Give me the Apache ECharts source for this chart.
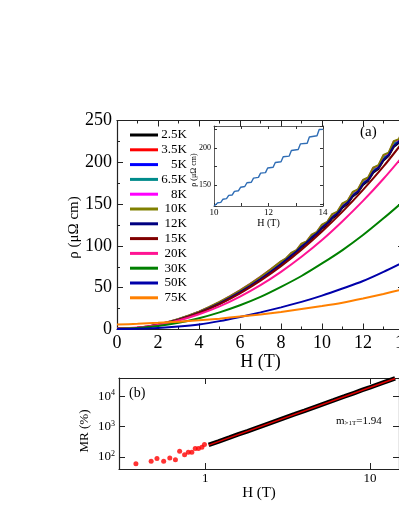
<!DOCTYPE html>
<html><head><meta charset="utf-8">
<script src="https://cdn.jsdelivr.net/npm/echarts@6/dist/echarts.min.js"></script>
<style>html,body{margin:0;padding:0;background:#fff;overflow:hidden}#c{width:399px;height:516px}</style>
</head><body><div id="c"></div>
<script>
// ---------- Panel (a) data ----------
const seriesNames = ['2.5K','3.5K','5K','6.5K','8K','10K','12K','15K','20K','30K','50K','75K'];
const seriesColors = ['#000000','#ff0000','#0000ff','#008b8b','#ff00ff','#808000','#000080','#800000','#ff1493','#008000','#0000aa','#ff8000'];
// field grids (T)
const hFine = [0,0.5,1,1.5,2,2.5,3,3.5,4,4.5,5,5.5,6,6.5,7,7.5,
  8,8.25,8.5,8.75,9,9.25,9.5,9.75,10,10.25,10.5,10.75,11,11.25,11.5,11.75,12,12.25,12.5,12.75,13,13.25,13.5,13.75,14];
const hCoarse = [0,1,2,3,4,5,6,7,8,9,10,11,12,13,14];
// resistivity (µΩ cm), low-T curves with SdH oscillations
const rho2p5K = [1.0,1.2,1.7,3.2,5.4,8.2,11.6,15.5,20.0,25.2,30.8,37.2,44.0,51.5,59.5,68.1,
  77.4,82.3,87.3,91.9,98.1,102.5,109.0,113.6,120.7,125.2,132.9,137.3,145.7,150.2,159.2,163.6,173.0,177.7,187.6,192.1,202.1,207.4,218.2,223.2,234.8];
const rho3p5K = [1.1,1.3,1.9,3.4,5.6,8.5,11.9,15.9,20.5,25.8,31.5,38.0,44.9,52.5,60.6,69.3,
  78.9,83.6,88.9,93.1,99.6,103.8,110.4,115.0,122.3,126.6,134.4,139.0,147.2,151.7,160.6,165.1,174.4,179.1,189.2,193.6,203.6,208.6,219.9,224.7,236.6];
const rho5K = [0.9,1.2,1.9,3.5,5.8,8.8,12.3,16.4,21.1,26.5,32.4,39.1,46.2,54.0,62.3,71.3,
  80.6,84.3,90.6,93.7,101.4,104.3,112.3,115.4,124.1,127.2,136.5,139.4,149.4,152.3,163.0,165.6,177.1,179.6,192.0,194.0,206.7,209.0,223.2,224.9,239.9];
const rho6p5K = [1.0,1.2,1.8,3.4,5.7,8.7,12.1,16.2,20.9,26.2,32.1,38.7,45.7,53.4,61.7,70.6,
  80.2,84.6,90.2,94.0,100.9,104.6,111.8,115.8,123.5,127.6,135.8,139.9,148.6,152.9,162.2,166.2,176.2,180.2,191.0,194.7,205.7,210.0,222.0,225.8,238.9];
const rho8K = [1.2,1.4,2.0,3.6,5.9,8.9,12.4,16.6,21.3,26.8,32.8,39.5,46.7,54.6,63.0,72.0,
  81.2,84.8,91.4,94.3,102.3,105.0,113.2,116.2,125.2,128.0,137.7,140.3,150.6,153.3,164.3,166.8,178.5,180.9,193.5,195.5,208.4,210.5,225.0,226.6,241.8];
const rho10K = [1.3,1.5,2.1,3.7,6.0,9.0,12.5,16.7,21.4,26.9,32.9,39.6,46.8,54.7,63.1,72.1,
  81.5,85.2,91.6,94.8,102.6,105.5,113.5,116.8,125.5,128.6,138.0,141.0,150.9,154.0,164.5,167.6,178.8,181.8,193.7,196.5,208.7,211.6,225.2,227.8,242.0];
const rho12K = [0.7,0.9,1.6,3.1,5.3,8.2,11.6,15.6,20.2,25.5,31.2,37.7,44.6,52.2,60.3,69.0,
  78.4,83.4,88.5,93.3,99.2,104.0,110.2,115.0,122.0,127.0,134.0,139.0,146.8,151.8,160.0,165.0,174.0,179.0,188.6,193.5,203.0,208.6,219.5,224.6,236.0];
// smooth higher-T curves
const rho15K = [1.2,1.9,5.5,11.5,19.8,30.4,43.3,58.5,75.8,95.5,117.3,141.0,167.0,195.0,226.0];
const rho20K = [1.2,2.3,5.4,10.7,18.2,27.7,39.4,53.1,69.0,87.0,107.0,129.5,153.8,180.3,209.0];
const rho30K = [1.0,1.8,4.1,8.0,13.5,20.5,29.0,39.0,51.0,64.0,79.0,95.0,113.0,133.0,154.0];
const rho50K = [0.5,0.8,1.8,3.5,6.0,10.0,15.0,20.5,26.5,33.0,40.5,49.0,58.0,69.0,81.0];
const rho75K = [6.0,6.8,8.0,9.4,11.0,13.0,15.5,18.0,21.0,24.5,28.0,32.0,37.0,42.5,48.5];

// ---------- Inset data (H, rho) ----------
const insetH = [10.00,10.06,10.14,10.25,10.33,10.46,10.54,10.67,10.75,10.90,10.98,11.13,11.21,11.37,11.45,11.63,11.71,11.89,11.97,12.17,12.25,12.46,12.54,12.76,12.84,13.09,13.17,13.42,13.50,13.78,13.86,13.93,14.00];
const insetRho = [122.0,122.5,126.3,126.9,131.2,132.0,136.3,136.9,141.7,142.6,147.4,148.3,153.4,154.0,159.6,160.7,166.4,167.1,173.3,174.3,180.8,181.7,188.5,189.4,196.9,198.2,205.8,206.8,215.2,216.8,225.3,227.5,225.5];

// ---------- Panel (b) data ----------
const mrH = [1.05,1.2,1.4,1.6,1.8,2,2.5,3,3.5,4,5,6,7,8,9,10,11,12,13,14.2];
const mrVal = [250,320,430,560,700,860,1330,1900,2560,3320,5130,7300,9850,12800,16100,19700,23800,28200,32900,39000];
const fitH = [1.05,14.2];
const fitVal = [245,38500];
const lowH = [0.38,0.47,0.51,0.56,0.61,0.66,0.70,0.75,0.79,0.83,0.87,0.91,0.955,0.99];
const lowVal = [60,72,88,72,93,81,153,119,142,142,188,188,207,255];

const F = "'Liberation Serif','Times New Roman',serif";
const zip = (xs, ys) => xs.map((x, i) => [x, ys[i]]);

const fineSets = [rho2p5K, rho3p5K, rho5K, rho6p5K, rho8K, rho10K, rho12K];
const coarseSets = [rho15K, rho20K, rho30K, rho50K, rho75K];

const mainSeries = seriesNames.map((n, i) => {
  const isFine = i < fineSets.length;
  return {
    name: n, type: 'line', xAxisIndex: 0, yAxisIndex: 0,
    data: isFine ? zip(hFine, fineSets[i]) : zip(hCoarse, coarseSets[i - fineSets.length]),
    symbol: 'none', smooth: isFine ? false : 0.3,
    lineStyle: { color: seriesColors[i], width: 2 },
    itemStyle: { color: seriesColors[i] },
    silent: true
  };
});

const axisCommon = (extra) => Object.assign({
  axisLine: { onZero: false, lineStyle: { color: '#222', width: 1.2 } },
  axisTick: { inside: true, length: 6, lineStyle: { color: '#222' } },
  splitLine: { show: false },
}, extra);

const logLabel = (v) => {
  const l = Math.log10(v);
  return Math.abs(l - Math.round(l)) < 1e-6 ? String(Math.round(v)) : '';
};
const logSupLabel = (v) => {
  const l = Math.log10(v);
  if (Math.abs(l - Math.round(l)) > 1e-6) return '';
  return '{b|10}{s|' + Math.round(l) + '}';
};

const option = {
  animation: false,
  backgroundColor: '#fff',
  grid: [
    { left: 117, right: -5, top: 120.5, bottom: 186.5, outerBoundsMode: 'none', containLabel: false },
    { left: 214, right: 76, top: 126, bottom: 310, outerBoundsMode: 'none', containLabel: false },
    { left: 119, right: 0, top: 378, bottom: 47, outerBoundsMode: 'none', containLabel: false }
  ],
  legend: {
    data: seriesNames, orient: 'vertical', left: 130, top: 127.6, padding: 0,
    icon: 'rect', itemGap: 0, itemWidth: 28, itemHeight: 3, selectedMode: false,
    formatter: n => '{a|' + n + '}',
    textStyle: { fontFamily: F, fontSize: 13, color: '#000', lineHeight: 14.8,
      rich: { a: { width: 24, align: 'right', fontFamily: F, fontSize: 13, color: '#000', lineHeight: 14.8 } } }
  },
  xAxis: [
    axisCommon({ gridIndex: 0, type: 'value', min: 0, max: 14, interval: 2,
      minorTick: { show: true, splitNumber: 2, length: 3, lineStyle: { color: '#222' } },
      axisLabel: { fontFamily: F, fontSize: 18, color: '#000', margin: 5 },
      name: 'H (T)', nameLocation: 'middle', nameGap: 23,
      nameTextStyle: { fontFamily: F, fontSize: 18, color: '#000' } }),
    axisCommon({ gridIndex: 0, type: 'value', position: 'top', min: 0, max: 14, interval: 2,
      minorTick: { show: true, splitNumber: 2, length: 3, lineStyle: { color: '#222' } },
      axisLabel: { show: false } }),
    axisCommon({ gridIndex: 1, type: 'value', min: 10, max: 14, interval: 1,
      axisLine: { onZero: false, lineStyle: { color: '#333', width: 0.8 } },
      axisTick: { inside: true, length: 3, lineStyle: { color: '#333' } },
      axisLabel: { fontFamily: F, fontSize: 9, color: '#000', margin: 2, formatter: v => (v % 2 === 0 ? String(v) : '') },
      name: 'H (T)', nameLocation: 'middle', nameGap: 9,
      nameTextStyle: { fontFamily: F, fontSize: 10, color: '#000' } }),
    axisCommon({ gridIndex: 1, type: 'value', position: 'top', min: 10, max: 14, interval: 1,
      axisLine: { onZero: false, lineStyle: { color: '#333', width: 0.8 } },
      axisTick: { inside: true, length: 3, lineStyle: { color: '#333' } },
      axisLabel: { show: false } }),
    axisCommon({ gridIndex: 2, type: 'log', min: 0.3, max: 15,
      axisLabel: { fontFamily: F, fontSize: 13, color: '#000', margin: 3, formatter: logLabel },
      name: 'H (T)', nameLocation: 'middle', nameGap: 14,
      nameTextStyle: { fontFamily: F, fontSize: 15, color: '#000' } }),
    axisCommon({ gridIndex: 2, type: 'log', position: 'top', min: 0.3, max: 15,
      axisLabel: { show: false } })
  ],
  yAxis: [
    axisCommon({ gridIndex: 0, type: 'value', min: 0, max: 250, interval: 50,
      minorTick: { show: true, splitNumber: 2, length: 3, lineStyle: { color: '#222' } },
      axisLabel: { fontFamily: F, fontSize: 18, color: '#000', margin: 5 } }),
    axisCommon({ gridIndex: 0, type: 'value', position: 'right', min: 0, max: 250, interval: 50,
      minorTick: { show: true, splitNumber: 2, length: 3, lineStyle: { color: '#222' } },
      axisLabel: { show: false } }),
    axisCommon({ gridIndex: 1, type: 'value', min: 122, max: 230, minInterval: 25, maxInterval: 25,
      axisLine: { onZero: false, lineStyle: { color: '#333', width: 0.8 } },
      axisTick: { inside: true, length: 3, lineStyle: { color: '#333' } },
      axisLabel: { fontFamily: F, fontSize: 8, color: '#000', margin: 3, formatter: v => (v % 50 === 0 ? String(v) : '') } }),
    axisCommon({ gridIndex: 1, type: 'value', position: 'right', min: 122, max: 230, minInterval: 25, maxInterval: 25,
      axisLine: { onZero: false, lineStyle: { color: '#333', width: 0.8 } },
      axisTick: { inside: true, length: 3, lineStyle: { color: '#333' } },
      axisLabel: { show: false } }),
    axisCommon({ gridIndex: 2, type: 'log', min: 40, max: 40000,
      axisLabel: { fontFamily: F, fontSize: 13, color: '#000', margin: 4, formatter: logSupLabel,
        rich: { b: { fontFamily: F, fontSize: 13, color: '#000' }, s: { fontFamily: F, fontSize: 8, color: '#000', verticalAlign: 'top', padding: [0, 0, 6, 0] } } } }),
    axisCommon({ gridIndex: 2, type: 'log', position: 'right', min: 40, max: 40000,
      axisLabel: { show: false } })
  ],
  series: mainSeries.concat([
    { type: 'line', xAxisIndex: 2, yAxisIndex: 2, data: zip(insetH, insetRho), symbol: 'none',
      lineStyle: { color: '#2f6db5', width: 1.4 }, silent: true },
    { type: 'line', xAxisIndex: 4, yAxisIndex: 4, data: zip(mrH, mrVal), symbol: 'none',
      lineStyle: { color: '#000', width: 4.5 }, silent: true },
    { type: 'line', xAxisIndex: 4, yAxisIndex: 4, data: zip(fitH, fitVal), symbol: 'none',
      lineStyle: { color: '#e00000', width: 1.5 }, silent: true },
    { type: 'scatter', xAxisIndex: 4, yAxisIndex: 4, data: zip(lowH, lowVal), symbol: 'circle', symbolSize: 5,
      itemStyle: { color: '#ff0000' }, silent: true }
  ]),
  graphic: [
    { type: 'text', x: 74, y: 227.5, rotation: Math.PI / 2,
      style: { text: 'ρ (μΩ cm)', font: '15px ' + F, fill: '#000', align: 'center', verticalAlign: 'middle' } },
    { type: 'text', x: 194, y: 170, rotation: Math.PI / 2,
      style: { text: 'ρ (μΩ cm)', font: '8px ' + F, fill: '#000', align: 'center', verticalAlign: 'middle' } },
    { type: 'text', x: 85, y: 431, rotation: Math.PI / 2,
      style: { text: 'MR (%)', font: '13px ' + F, fill: '#000', align: 'center', verticalAlign: 'middle' } },
    { type: 'text', left: 360, top: 125, style: { text: '(a)', font: '15px ' + F, fill: '#000' } },
    { type: 'text', left: 129, top: 386, style: { text: '(b)', font: '14px ' + F, fill: '#000' } },
    { type: 'text', left: 336, top: 416, style: { text: '{m|m}{s|>1T}{m|=1.94}',
      rich: { m: { fontFamily: F, fontSize: 11, fill: '#000' }, s: { fontFamily: F, fontSize: 7, fill: '#000', verticalAlign: 'bottom' } } } }
  ]
};

const chart = echarts.init(document.getElementById('c'), null, { renderer: 'canvas' });
chart.setOption(option);
</script></body></html>
